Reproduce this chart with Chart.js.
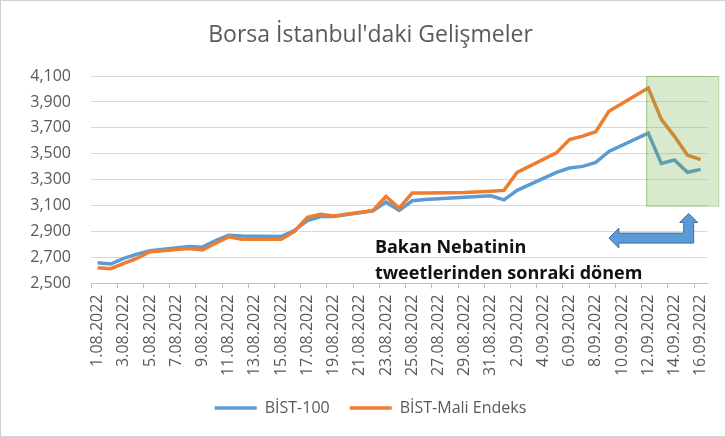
<!DOCTYPE html>
<html>
<head>
<meta charset="utf-8">
<script src="https://cdn.jsdelivr.net/npm/chart.js@4/dist/chart.umd.min.js"></script>
<style>
  html, body { margin: 0; padding: 0; background: #fff; }
  #wrap { width: 726px; height: 437px; }
</style>
</head>
<body>
<div id="wrap"><canvas id="borsaChart" width="726" height="437"></canvas></div>
<script>
const dates = [
  '1.08.2022', '2.08.2022', '3.08.2022', '4.08.2022', '5.08.2022', '6.08.2022', '7.08.2022', '8.08.2022',
  '9.08.2022', '10.08.2022', '11.08.2022', '12.08.2022', '13.08.2022', '14.08.2022', '15.08.2022', '16.08.2022',
  '17.08.2022', '18.08.2022', '19.08.2022', '20.08.2022', '21.08.2022', '22.08.2022', '23.08.2022', '24.08.2022',
  '25.08.2022', '26.08.2022', '27.08.2022', '28.08.2022', '29.08.2022', '30.08.2022', '31.08.2022', '1.09.2022',
  '2.09.2022', '3.09.2022', '4.09.2022', '5.09.2022', '6.09.2022', '7.09.2022', '8.09.2022', '9.09.2022',
  '10.09.2022', '11.09.2022', '12.09.2022', '13.09.2022', '14.09.2022', '15.09.2022', '16.09.2022'
];

// null = hafta sonu / tatil (borsa kapali)
const bist100 = [
  2660, 2650, 2694, 2727, 2752, null, null, 2786,
  2780, 2830, 2872, 2867, null, null, 2862, 2908,
  2985, 3016, 3016, null, null, 3060, 3128, 3063,
  3138, 3148, null, null, 3166, null, 3176, 3145,
  3218, null, null, 3357, 3390, 3403, 3434, 3518,
  null, null, 3660, 3426, 3452, 3358, 3380
];
const bistMali = [
  2622, 2614, 2655, 2694, 2745, null, null, 2769,
  2758, 2810, 2860, 2842, null, null, 2842, 2900,
  3011, 3034, 3021, null, null, 3063, 3171, 3081,
  3197, 3198, null, null, 3202, null, 3212, 3218,
  3357, null, null, 3507, 3610, 3636, 3670, 3828,
  null, null, 4008, 3765, 3635, 3489, 3455
];

const yTicks = { min: 2500, max: 4100, step: 200 };
const noteLines = ['Bakan Nebatinin', 'tweetlerinden sonraki dönem'];
const gray = '#595959';

Chart.defaults.font.family = "'Open Sans', sans-serif";

const decorPlugin = {
  id: 'decor',
  beforeDraw(chart) {
    const { ctx, width, height } = chart;
    ctx.save();
    ctx.fillStyle = '#fff';
    ctx.fillRect(0, 0, width, height);
    ctx.strokeStyle = '#d0d0d0';
    ctx.lineWidth = 1;
    ctx.strokeRect(0.5, 0.5, width - 1, height - 1);
    ctx.restore();
  },
  afterDatasetsDraw(chart) {
    const { ctx, chartArea } = chart;
    const x = chart.scales.x, y = chart.scales.y;
    ctx.save();

    // yesil alan: 12.09 sonrasi
    const bx = x.getPixelForValue(42) - 2;
    const by = y.getPixelForValue(4100);
    const bw = chartArea.right + 11 - bx;
    const bh = y.getPixelForValue(3100) - by;
    ctx.fillStyle = 'rgba(112, 173, 71, 0.27)';
    ctx.fillRect(bx, by, bw, bh);
    ctx.strokeStyle = 'rgba(112, 173, 71, 0.55)';
    ctx.lineWidth = 1;
    ctx.strokeRect(bx + 0.5, by + 0.5, bw, bh);

    // ok
    const right = x.getPixelForValue(46) - 7;
    const tipX = x.getPixelForValue(39);
    const yc = y.getPixelForValue(2850);
    const tipY = y.getPixelForValue(3040);
    const t = 5, hw = 10, hl = 10;
    const vx = right - 5;
    ctx.beginPath();
    ctx.moveTo(tipX, yc);
    ctx.lineTo(tipX + hl, yc - hw);
    ctx.lineTo(tipX + hl, yc - t);
    ctx.lineTo(vx - t, yc - t);
    ctx.lineTo(vx - t, tipY + 9);
    ctx.lineTo(vx - t - 4, tipY + 9);
    ctx.lineTo(vx, tipY);
    ctx.lineTo(vx + t + 4, tipY + 9);
    ctx.lineTo(vx + t, tipY + 9);
    ctx.lineTo(vx + t, yc + t);
    ctx.lineTo(tipX + hl, yc + t);
    ctx.lineTo(tipX + hl, yc + hw);
    ctx.closePath();
    ctx.fillStyle = '#5b9bd5';
    ctx.fill();
    ctx.strokeStyle = '#41719c';
    ctx.lineWidth = 1;
    ctx.stroke();

    // aciklama
    ctx.fillStyle = '#111';
    ctx.font = "bold 18px 'Open Sans', sans-serif";
    ctx.textBaseline = 'middle';
    ctx.textAlign = 'left';
    const tx = x.getPixelForValue(21) + 2;
    ctx.fillText(noteLines[0], tx, y.getPixelForValue(2778));
    ctx.fillText(noteLines[1], tx, y.getPixelForValue(2577));
    ctx.restore();
  }
};

new Chart(document.getElementById('borsaChart'), {
  type: 'line',
  data: {
    labels: dates,
    datasets: [
      {
        label: 'BİST-100',
        data: bist100,
        borderColor: '#5b9bd5',
        backgroundColor: '#5b9bd5',
        borderWidth: 3.5,
        pointRadius: 0,
        pointStyle: 'line',
        spanGaps: true,
        tension: 0,
        order: 1,
      },
      {
        label: 'BİST-Mali Endeks',
        data: bistMali,
        borderColor: '#ed7d31',
        backgroundColor: '#ed7d31',
        borderWidth: 3.5,
        pointRadius: 0,
        pointStyle: 'line',
        spanGaps: true,
        tension: 0,
        order: 0,
      },
    ],
  },
  options: {
    responsive: false,
    animation: false,
    layout: { padding: { left: 28, right: 13, top: 0, bottom: 11 } },
    plugins: {
      title: {
        display: true,
        text: "Borsa İstanbul'daki Gelişmeler",
        color: gray,
        font: { size: 23, weight: 'normal' },
        padding: { top: 22, bottom: 26.4 },
      },
      legend: {
        position: 'bottom',
        labels: {
          color: gray,
          font: { size: 16 },
          usePointStyle: true,
          pointStyleWidth: 42,
          padding: 20,
          sort: (a, b) => a.datasetIndex - b.datasetIndex,
        },
      },
      tooltip: { enabled: false },
    },
    scales: {
      x: {
        offset: true,
        afterFit(scale) { scale.height = 96.5; },
        grid: {
          offset: true,
          drawOnChartArea: false,
          drawTicks: true,
          tickLength: 5,
          color: ctx => (ctx.index % 2 === 0 ? '#bfbfbf' : 'rgba(0,0,0,0)'),
        },
        border: { display: true, color: '#bfbfbf' },
        ticks: {
          autoSkip: false,
          minRotation: 90,
          maxRotation: 90,
          padding: 6,
          color: gray,
          font: { size: 16 },
          callback(value, index) { return index % 2 === 0 ? dates[index] : ''; },
        },
      },
      y: {
        min: yTicks.min,
        max: yTicks.max,
        afterFit(scale) { scale.width = 63; },
        grid: { color: '#d9d9d9', drawTicks: false },
        border: { display: false },
        ticks: {
          stepSize: yTicks.step,
          padding: 20,
          color: gray,
          font: { size: 16 },
          callback: v => v.toLocaleString('en-US'),
        },
      },
    },
  },
  plugins: [decorPlugin],
});
</script>
</body>
</html>
